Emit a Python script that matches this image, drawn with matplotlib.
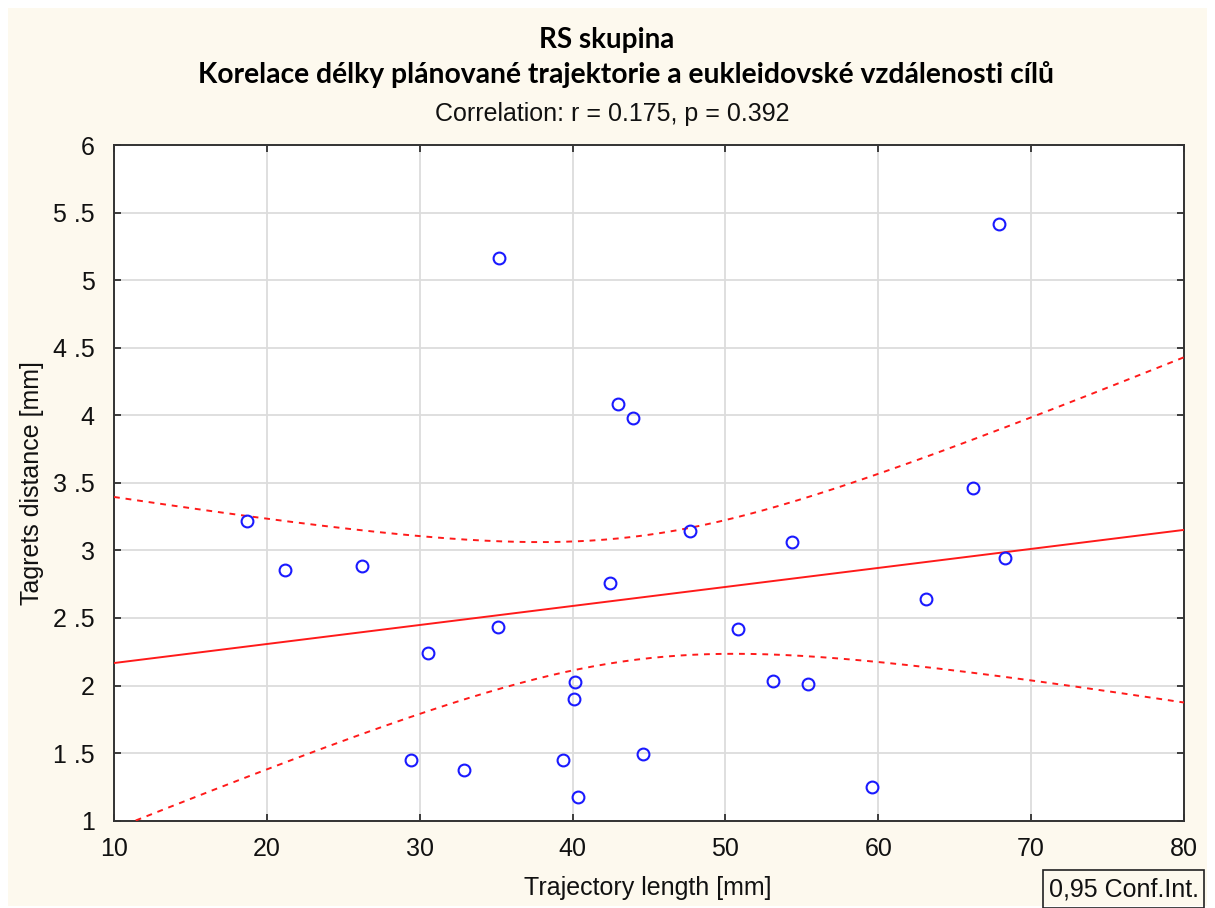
import numpy as np
import matplotlib
matplotlib.use("Agg")
import matplotlib.pyplot as plt
from matplotlib.patches import Rectangle

traj_len = [18.70, 21.19, 26.22, 30.54, 29.43, 32.90, 35.10, 35.19, 39.39, 40.18,
            40.11, 40.33, 42.45, 42.97, 43.95, 44.63, 47.66, 50.80, 53.13, 54.37,
            55.42, 59.57, 63.12, 66.18, 67.90, 68.27]
targ_dist = [3.218, 2.855, 2.885, 2.241, 1.449, 1.375, 2.431, 5.164, 1.447, 2.029,
             1.898, 1.173, 2.759, 4.083, 3.982, 1.491, 3.144, 2.419, 2.032, 3.060,
             2.009, 1.247, 2.640, 3.464, 5.415, 2.946]

x_ticks = [10, 20, 30, 40, 50, 60, 70, 80]
y_ticks = [1, 1.5, 2, 2.5, 3, 3.5, 4, 4.5, 5, 5.5, 6]
y_tick_labels = ["1", "1 .5", "2", "2 .5", "3", "3 .5", "4", "4 .5", "5", "5 .5", "6"]

title1 = "RS skupina"
title2 = "Korelace délky plánované trajektorie a eukleidovské vzdálenosti cílů"
subtitle = "Correlation: r = 0.175, p = 0.392"
xlabel = "Trajectory length [mm]"
ylabel = "Tagrets distance [mm]"
ci_label = "0,95 Conf.Int."
t_crit = 2.0639  # t(0.975, 24)

x = np.array(traj_len)
y = np.array(targ_dist)
n = len(x)
b, a = np.polyfit(x, y, 1)
resid = y - (a + b * x)
s = np.sqrt(np.sum(resid**2) / (n - 2))
xbar = x.mean()
sxx = np.sum((x - xbar) ** 2)
xs = np.linspace(10, 80, 300)
yhat = a + b * xs
half = t_crit * s * np.sqrt(1.0 / n + (xs - xbar) ** 2 / sxx)

W, H = 1215, 908
fig = plt.figure(figsize=(W / 100, H / 100), dpi=100)
fig.patch.set_facecolor("white")
fig.add_artist(Rectangle((8 / W, 2 / H), (W - 16) / W, (H - 10) / H,
                         transform=fig.transFigure, facecolor="#FDF9EE",
                         edgecolor="none", zorder=-10))

ax = fig.add_axes([114 / W, 1 - 820.7 / H, (1184 - 114) / W, (820.7 - 145) / H])
ax.set_facecolor("white")
ax.set_xlim(10, 80)
ax.set_ylim(1, 6)

ax.grid(True, color="#DCDCDC", linewidth=1.3, zorder=0)
ax.set_axisbelow(True)

ax.plot(xs, yhat, color="#FF1A1A", linewidth=1.4, zorder=3)
ax.plot(xs, yhat + half, color="#FF1A1A", linewidth=1.4, linestyle=(0, (3, 3)), zorder=3)
ax.plot(xs, yhat - half, color="#FF1A1A", linewidth=1.4, linestyle=(0, (3, 3)), zorder=3)
ax.plot(x, y, linestyle="none", marker="o", markersize=8.5, markerfacecolor="none",
        markeredgecolor="#1A1AFF", markeredgewidth=1.5, zorder=4, clip_on=False)

ax.set_xticks(x_ticks)
ax.set_xticklabels([str(v) for v in x_ticks])
ax.set_yticks(y_ticks)
ax.set_yticklabels(y_tick_labels)
ax.tick_params(direction="in", length=5, width=1.2, top=True, right=True,
               labelsize=18, colors="#222222", labelcolor="#111111")
ax.tick_params(axis="x", pad=12)
ax.tick_params(axis="y", pad=14)
for lab in ax.get_xticklabels() + ax.get_yticklabels():
    lab.set_fontfamily("Liberation Sans")
for sp in ax.spines.values():
    sp.set_color("#333333")
    sp.set_linewidth(1.4)

fig.text(607 / W, 1 - 40 / H, title1, ha="center", va="center", fontsize=20,
         fontweight="bold", family="Lato")
fig.text(626 / W, 1 - 75 / H, title2, ha="center", va="center", fontsize=20.3,
         fontweight="bold", family="Lato")
fig.text(612 / W, 1 - 114 / H, subtitle, ha="center", va="center", fontsize=18,
         family="Liberation Sans", color="#111111")
fig.text(648 / W, 1 - 888 / H, xlabel, ha="center", va="center", fontsize=18,
         family="Liberation Sans", color="#111111")
fig.text(32 / W, 1 - 483 / H, ylabel, ha="center", va="center", fontsize=18,
         family="Liberation Sans", rotation=90, color="#111111")

fig.add_artist(Rectangle((1043 / W, 0), (1204 - 1043) / W, (908 - 870) / H,
                         transform=fig.transFigure, facecolor="none",
                         edgecolor="#222222", linewidth=1.2))
fig.text(1124 / W, 1 - 889 / H, ci_label, ha="center", va="center", fontsize=18,
         family="Liberation Sans", color="#111111")

fig.savefig("out.png", dpi=100, facecolor=fig.get_facecolor())
